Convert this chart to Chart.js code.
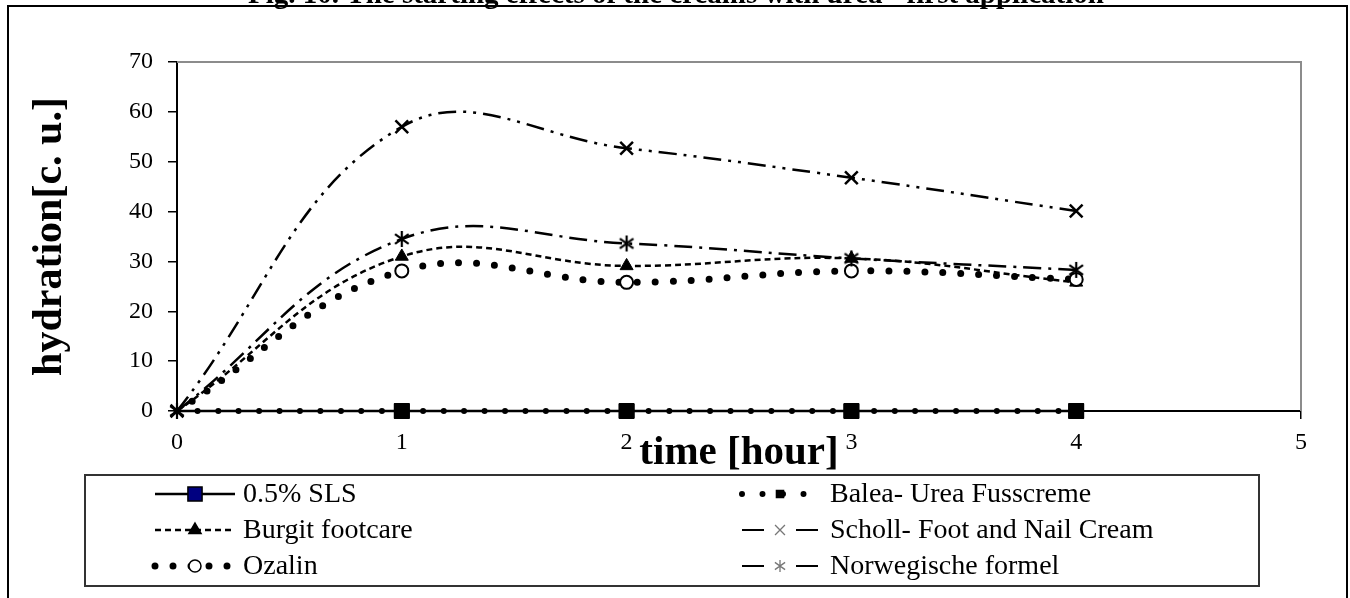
<!DOCTYPE html>
<html>
<head>
<meta charset="utf-8">
<script src="https://cdn.jsdelivr.net/npm/chart.js@4.4.0/dist/chart.umd.min.js"></script>
<style>
  html, body { margin: 0; padding: 0; background: #fff; }
  #wrap { position: relative; width: 1350px; height: 598px; }
</style>
</head>
<body>
<div id="wrap"><canvas id="chart"></canvas></div>
<script>
// data
const hours = [0, 1, 2, 3, 4];
const xTicks = [0, 1, 2, 3, 4, 5];
const yTicks = [0, 10, 20, 30, 40, 50, 60, 70];
const seriesNames = [
  "0.5% SLS",
  "Balea- Urea Fusscreme",
  "Burgit footcare",
  "Scholl- Foot and Nail Cream",
  "Ozalin",
  "Norwegische formel",
];
const slsValues = [0, 0, 0, 0, 0];
const baleaValues = [0, 0, 0, 0, 0];
const burgitValues = [0, 31, 29.1, 30.6, 25.8];
const schollValues = [0, 57, 52.7, 46.8, 40.1];
const ozalinValues = [0, 28.1, 25.8, 28.1, 26.4];
const norwegValues = [0, 34.5, 33.6, 30.6, 28.3];

const FONT = '"Liberation Serif", "Times New Roman", serif';
const titleText = "Fig. 10. The starting effects of the creams with urea - first application";

const toPoints = (vals) => hours.map((h, i) => ({ x: h, y: vals[i] }));
// no marker on the first point for these series
const skipFirst = (r) => (c) => (c.dataIndex === 0 ? 0 : r);

//6-armed asterisk marker (X with a vertical bar)
function asterisk(size, color, lw) {
  const c = document.createElement("canvas");
  c.width = size; c.height = size;
  const g = c.getContext("2d");
  const m = size / 2, r = size / 2 - 1;
  g.strokeStyle = color; g.lineWidth = lw;
  g.beginPath();
  g.moveTo(m, m - r); g.lineTo(m, m + r);
  g.moveTo(m - r * 0.85, m - r * 0.6); g.lineTo(m + r * 0.85, m + r * 0.6);
  g.moveTo(m + r * 0.85, m - r * 0.6); g.lineTo(m - r * 0.85, m + r * 0.6);
  g.stroke();
  return c;
}
const starBig = asterisk(18, "#000", 2.2);
const starSmall = asterisk(14, "#777", 1.3);

const datasets = [
  {
    label: seriesNames[0], data: toPoints(slsValues), order: 3,
    borderColor: "#000", borderWidth: 2.5,
    pointStyle: "rect", pointRadius: skipFirst(10.5),
    pointBackgroundColor: "#000080", pointBorderColor: "#000", pointBorderWidth: 1,
  },
  {
    label: seriesNames[1], data: toPoints(baleaValues), order: 2,
    borderColor: "#000", borderWidth: 6, borderDash: [0, 20.5], borderCapStyle: "round",
    pointStyle: "rect", pointRadius: skipFirst(10.5),
    pointBackgroundColor: "#000", pointBorderColor: "#000", pointBorderWidth: 1,
  },
  {
    label: seriesNames[2], data: toPoints(burgitValues), order: 2,
    borderColor: "#000", borderWidth: 2.5, borderDash: [6, 4],
    pointStyle: "triangle", pointRadius: skipFirst(7.5),
    pointBackgroundColor: "#000", pointBorderColor: "#000", pointBorderWidth: 1,
  },
  {
    label: seriesNames[3], data: toPoints(schollValues), order: 0,
    borderColor: "#000", borderWidth: 2.5, borderDash: [18, 7, 3, 7, 3, 7],
    pointStyle: "crossRot", pointRadius: 9,
    pointBorderColor: "#000", pointBorderWidth: 2.5,
  },
  {
    label: seriesNames[4], data: toPoints(ozalinValues), order: 1,
    borderColor: "#000", borderWidth: 7, borderDash: [0, 18], borderCapStyle: "round",
    pointStyle: "circle", pointRadius: skipFirst(6.5),
    pointBackgroundColor: "#fff", pointBorderColor: "#000", pointBorderWidth: 2,
  },
  {
    label: seriesNames[5], data: toPoints(norwegValues), order: 0,
    borderColor: "#000", borderWidth: 2.5, borderDash: [18, 7, 3, 7],
    pointStyle: starBig, pointRadius: 8,
  },
];
datasets.forEach((d) => { d.tension = 0.4; d.clip = false; d.fill = false; });

//legend look per series (sample span + marker)
const legendLook = [
  { radius: 10, style: "rect", fill: "#000080" },
  { radius: 5, style: "rect", fill: "#000" },
  { radius: 7, style: "triangle", fill: "#000" },
  { radius: 7, style: "crossRot", fill: "#777", stroke: "#777", lw: 1.3, plain: true },
  { radius: 6, style: "circle", fill: "#fff" },
  { radius: 7, style: starSmall, plain: true },
];

//frame, caption and the grey plot border
const framePlugin = {
  id: "framePlugin",
  beforeDraw(chart) {
    const ctx = chart.ctx;
    ctx.save();
    ctx.fillStyle = "#fff";
    ctx.fillRect(0, 0, chart.width, chart.height);
    ctx.fillStyle = "#000";
    ctx.font = "bold 29px " + FONT;
    ctx.textAlign = "center";
    ctx.textBaseline = "alphabetic";
    ctx.fillText(titleText, 676, 3);
    ctx.lineWidth = 2;
    ctx.strokeStyle = "#000";
    ctx.strokeRect(8, 6, 1339, 640);
    ctx.restore();
  },
  beforeDatasetsDraw(chart) {
    const { ctx, chartArea: a } = chart;
    ctx.save();
    ctx.strokeStyle = "#8c8c8c";
    ctx.lineWidth = 2;
    ctx.beginPath();
    ctx.moveTo(a.left, a.top);
    ctx.lineTo(a.right, a.top);
    ctx.lineTo(a.right, a.bottom);
    ctx.stroke();
    ctx.restore();
  },
};

const legendPlugin = {
  id: "legendPlugin",
  afterDraw(chart) {
    const ctx = chart.ctx;
    ctx.save();
    ctx.setLineDash([]);
    ctx.lineWidth = 2;
    ctx.strokeStyle = "#333";
    ctx.strokeRect(85, 475, 1174, 111);
    chart.data.datasets.forEach((ds, i) => {
      const col = i % 2, row = Math.floor(i / 2);
      const y = 494 + row * 36;
      const x0 = col ? 742 : 155;
      const x1 = col ? 818 : 235;
      const look = legendLook[i];
      ctx.save();
      ctx.strokeStyle = "#000";
      ctx.lineWidth = look.plain ? 2 : ds.borderWidth;
      ctx.lineCap = ds.borderCapStyle || "butt";
      ctx.setLineDash(look.plain ? [] : (ds.borderDash || []));
      ctx.beginPath();
      if (look.plain) {
        ctx.moveTo(x0, y); ctx.lineTo(x0 + 22, y);
        ctx.moveTo(x1 - 22, y); ctx.lineTo(x1, y);
      } else {
        ctx.moveTo(x0, y); ctx.lineTo(x1, y);
      }
      ctx.stroke();
      ctx.setLineDash([]);
      ctx.fillStyle = look.fill || "#000";
      ctx.strokeStyle = look.stroke || "#000";
      ctx.lineWidth = look.lw || 1.5;
      Chart.helpers.drawPoint(ctx, { pointStyle: look.style, radius: look.radius, borderWidth: 1.5, rotation: 0 }, (x0 + x1) / 2, y);
      ctx.restore();
      ctx.fillStyle = "#000";
      ctx.font = "28px " + FONT;
      ctx.textAlign = "left";
      ctx.textBaseline = "middle";
      ctx.fillText(ds.label, col ? 830 : 243, y + 1);
    });
    ctx.restore();
  },
};

const tickFont = { family: FONT, size: 24 };
new Chart(document.getElementById("chart"), {
  type: "line",
  data: { datasets: datasets },
  plugins: [framePlugin, legendPlugin],
  options: {
    responsive: true,
    maintainAspectRatio: false,
    animation: false,
    layout: { padding: { top: 62, right: 49, bottom: 0, left: 0 } },
    plugins: { legend: { display: false }, tooltip: { enabled: false } },
    scales: {
      x: {
        type: "linear",
        min: xTicks[0],
        max: xTicks[xTicks.length - 1],
        afterBuildTicks: (s) => { s.ticks = xTicks.map((v) => ({ value: v })); },
        afterFit: (s) => { s.height = 187; },
        ticks: { color: "#000", font: tickFont, padding: 9 },
        grid: { display: true, drawOnChartArea: false, drawTicks: true, tickLength: 8, color: "#000", lineWidth: 1.5 },
        border: { display: true, color: "#000", width: 2 },
        title: {
          display: true, text: "time [hour]", color: "#000",
          font: { family: FONT, size: 41, weight: "bold" },
          padding: { top: 0, bottom: 120 },
        },
      },
      y: {
        type: "linear",
        min: yTicks[0],
        max: yTicks[yTicks.length - 1],
        afterBuildTicks: (s) => { s.ticks = yTicks.map((v) => ({ value: v })); },
        afterFit: (s) => { s.width = 177; },
        ticks: { color: "#000", font: tickFont, padding: 15 },
        grid: { display: true, drawOnChartArea: false, drawTicks: true, tickLength: 9, color: "#000", lineWidth: 1.5 },
        border: { display: true, color: "#000", width: 2 },
        title: {
          display: true, text: "hydration[c. u.]", color: "#000",
          font: { family: FONT, size: 42, weight: "bold" },
          padding: { top: 25, bottom: 0 },
        },
      },
    },
  },
});
</script>
</body>
</html>
